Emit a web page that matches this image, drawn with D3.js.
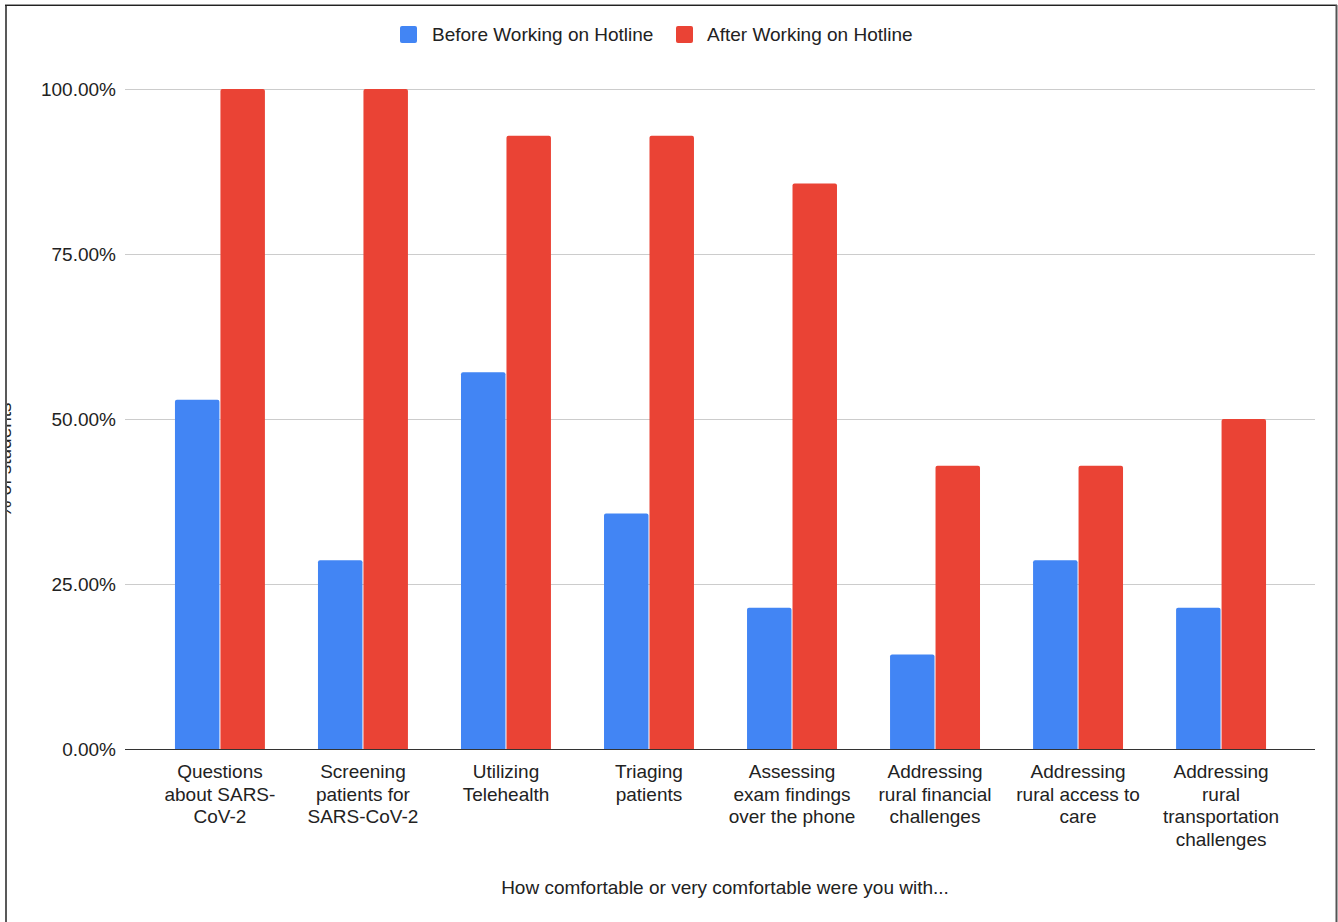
<!DOCTYPE html>
<html><head><meta charset="utf-8">
<script src="https://cdn.jsdelivr.net/npm/d3@7"></script>
<style>body{margin:0;background:#fff}svg{display:block}text{font-family:"Liberation Sans",Arial,sans-serif;fill:#222}</style>
</head><body>
<svg id="c" width="1338" height="922"></svg>
<script>
const categories = [
  ["Questions","about SARS-","CoV-2"],
  ["Screening","patients for","SARS-CoV-2"],
  ["Utilizing","Telehealth"],
  ["Triaging","patients"],
  ["Assessing","exam findings","over the phone"],
  ["Addressing","rural financial","challenges"],
  ["Addressing","rural access to","care"],
  ["Addressing","rural","transportation","challenges"]
];
const seriesNames = ["Before Working on Hotline","After Working on Hotline"];
const before = [52.9, 28.6, 57.1, 35.7, 21.4, 14.3, 28.6, 21.4];
const after  = [100, 100, 92.9, 92.9, 85.7, 42.9, 42.9, 50.0];
const yTicks = [0, 25, 50, 75, 100];
const colors = ["#4285F4", "#EA4335"];
const xTitle = "How comfortable or very comfortable were you with...";
const yTitle = "% of students";

const FS = "19px";
const svg = d3.select("#c");
const gridL = 125, gridR = 1315;
const x = d3.scaleBand().domain(d3.range(categories.length)).range([148.5, 1292.5]).paddingInner(0.371).paddingOuter(0.185);
const xs = d3.scaleBand().domain([0,1]).range([0, x.bandwidth()]).paddingInner(0.022);
const y = d3.scaleLinear().domain([0, 100]).range([749, 89]);

// border
svg.append("line").attr("x1",5).attr("x2",1337).attr("y1",4.5).attr("y2",4.5).attr("stroke","#999").attr("stroke-width",1);
svg.append("line").attr("x1",5).attr("x2",1337).attr("y1",5.5).attr("y2",5.5).attr("stroke","#222").attr("stroke-width",1);
svg.append("line").attr("x1",6).attr("x2",6).attr("y1",5).attr("y2",922).attr("stroke","#222").attr("stroke-width",1.5);
svg.append("line").attr("x1",1336.5).attr("x2",1336.5).attr("y1",5).attr("y2",922).attr("stroke","#555").attr("stroke-width",2);

// y title (clipped at left edge, as in the reference)
svg.append("clipPath").attr("id","clipL").append("rect").attr("x",7).attr("y",0).attr("width",40).attr("height",922);
svg.append("g").attr("clip-path","url(#clipL)").append("text")
  .attr("transform","translate(11,460) rotate(-90)").attr("text-anchor","middle")
  .style("font-size",FS).text(yTitle);

// grid
svg.append("g").selectAll("line").data(yTicks.filter(d=>d>0)).join("line")
  .attr("x1",gridL).attr("x2",gridR).attr("y1",d=>Math.round(y(d))+0.5).attr("y2",d=>Math.round(y(d))+0.5)
  .attr("stroke","#ccc").attr("stroke-width",1);

// y axis labels
const yAxis = d3.axisLeft(y).tickValues(yTicks).tickSize(0).tickPadding(0).tickFormat(d=>d.toFixed(2)+"%");
const ga = svg.append("g").attr("transform","translate(116,0)").call(yAxis);
ga.select(".domain").remove();
ga.selectAll("text").style("font-size",FS).style("font-family","'Liberation Sans',Arial,sans-serif").attr("fill","#222").attr("dy","0.35em");

// bars
const data = [before, after];
const g = svg.append("g");
categories.forEach((c,i)=>{
  data.forEach((s,j)=>{
    const x0 = x(i)+xs(j), w = xs.bandwidth(), yt = y(s[i]), r = 2;
    g.append("path").attr("fill",colors[j])
     .attr("d",`M${x0},${y(0)}V${yt+r}Q${x0},${yt} ${x0+r},${yt}H${x0+w-r}Q${x0+w},${yt} ${x0+w},${yt+r}V${y(0)}Z`);
  });
});

// baseline
svg.append("line").attr("x1",gridL).attr("x2",gridR).attr("y1",749.5).attr("y2",749.5).attr("stroke","#333").attr("stroke-width",1.2);

// x labels
const xl = svg.append("g");
categories.forEach((lines,i)=>{
  const cx = x(i)+x.bandwidth()/2;
  const t = xl.append("text").attr("x",cx).attr("y",778).attr("text-anchor","middle").style("font-size",FS);
  lines.forEach((ln,k)=>t.append("tspan").attr("x",cx).attr("dy",k===0?0:22.7).text(ln));
});

// x title
svg.append("text").attr("x",725).attr("y",894).attr("text-anchor","middle").style("font-size",FS).text(xTitle);

// legend
const leg = [{x:400,tx:432},{x:676,tx:707}];
seriesNames.forEach((n,j)=>{
  svg.append("rect").attr("x",leg[j].x).attr("y",26).attr("width",17).attr("height",17).attr("rx",2).attr("fill",colors[j]);
  svg.append("text").attr("x",leg[j].tx).attr("y",41).style("font-size",FS).text(n);
});
</script>
</body></html>
